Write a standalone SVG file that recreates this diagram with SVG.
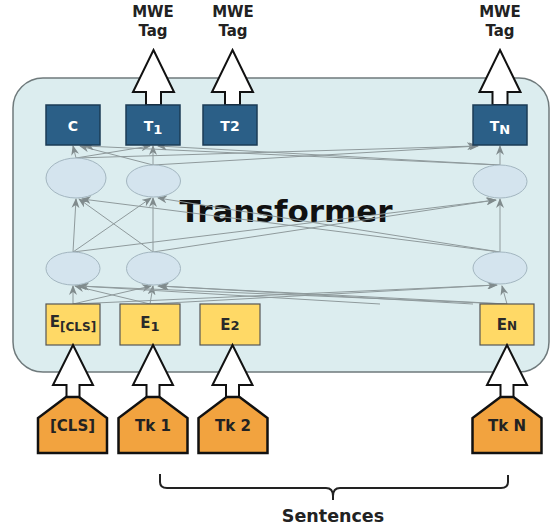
<svg xmlns="http://www.w3.org/2000/svg" width="551" height="527" viewBox="0 0 551 527">
<style>
.lbl{font-family:"DejaVu Sans",Verdana,sans-serif;font-weight:bold;text-anchor:middle}
.top{fill:#2b5f87;stroke:#1b3b55;stroke-width:1.5}
.emb{fill:#ffd966;stroke:#555;stroke-width:1.2}
.ell{fill:#d4e4ee;stroke:#a3b6c0;stroke-width:1}
.tok{fill:#f2a33f;stroke:#111;stroke-width:2.5;stroke-linejoin:miter}
.hol{fill:#fff;stroke:#111;stroke-width:2}
.con line{stroke:#8f9a9c;stroke-width:1;marker-end:url(#ah)}
.wt{fill:#fff;font-size:14px}
.dk{fill:#2a2a2a;font-size:15px}
</style>
<defs>
<marker id="ah" viewBox="0 0 10 8" refX="9" refY="4" markerWidth="10" markerHeight="8" markerUnits="userSpaceOnUse" orient="auto">
<path d="M0,0 L10,4 L0,8 L3,4 Z" fill="#808b8d"/>
</marker>
<path id="upTop" d="M0,0 L20.5,42 L7.5,42 L7.5,55 L-7.5,55 L-7.5,42 L-20.5,42 Z"/>
<path id="upBot" d="M0,0 L20,40 L6.5,40 L6.5,53 L-6.5,53 L-6.5,40 L-20,40 Z"/>
<path id="house" d="M-6.5,0 L6.5,0 L34.5,21 L34.5,56 L-34.5,56 L-34.5,21 Z"/>
</defs>

<rect id="transformer-box" x="13" y="78" width="536" height="294" rx="30" ry="30" fill="#dcedef" stroke="#6f7a7c" stroke-width="1.5"/>
<text class="lbl" x="286" y="222" font-size="31" fill="#111">Transformer</text>

<g id="connectors" class="con">
<line x1="73" y1="304" x2="73" y2="286"/>
<line x1="73" y1="304" x2="151" y2="286"/>
<line x1="73" y1="304" x2="497" y2="285"/>
<line x1="150" y1="304" x2="75" y2="286"/>
<line x1="150" y1="304" x2="153" y2="286"/>
<line x1="150" y1="304" x2="496" y2="285"/>
<line x1="380" y1="304" x2="80" y2="286"/>
<line x1="507" y1="304" x2="78" y2="286"/>
<line x1="507" y1="304" x2="158" y2="286"/>
<line x1="473" y1="304" x2="160" y2="286"/>
<line x1="507" y1="304" x2="502" y2="286"/>
<line x1="73" y1="252" x2="76" y2="199"/>
<line x1="73" y1="252" x2="151" y2="198"/>
<line x1="73" y1="252" x2="496" y2="200"/>
<line x1="153" y1="252" x2="79" y2="199"/>
<line x1="153" y1="252" x2="153" y2="198"/>
<line x1="153" y1="252" x2="495" y2="200"/>
<line x1="500" y1="252" x2="82" y2="199"/>
<line x1="500" y1="252" x2="158" y2="198"/>
<line x1="500" y1="252" x2="500" y2="199"/>
<line x1="76" y1="158" x2="73" y2="146"/>
<line x1="76" y1="158" x2="150" y2="146"/>
<line x1="76" y1="158" x2="476" y2="146"/>
<line x1="153" y1="165" x2="80" y2="146"/>
<line x1="153" y1="165" x2="153" y2="146"/>
<line x1="153" y1="165" x2="478" y2="146"/>
<line x1="500" y1="165" x2="85" y2="146"/>
<line x1="500" y1="165" x2="158" y2="146"/>
<line x1="500" y1="165" x2="500" y2="146"/>
</g>

<g id="out-arrows">
<use href="#upTop" class="hol" transform="translate(153.5,50)"/>
<use href="#upTop" class="hol" transform="translate(232.5,50)"/>
<use href="#upTop" class="hol" transform="translate(500,50)"/>
</g>
<g id="label-mwe1"><text class="lbl" x="153" y="17" font-size="15" fill="#222">MWE</text><text class="lbl" x="153" y="36" font-size="15" fill="#222">Tag</text></g>
<g id="label-mwe2"><text class="lbl" x="233" y="17" font-size="15" fill="#222">MWE</text><text class="lbl" x="233" y="36" font-size="15" fill="#222">Tag</text></g>
<g id="label-mweN"><text class="lbl" x="500" y="17" font-size="15" fill="#222">MWE</text><text class="lbl" x="500" y="36" font-size="15" fill="#222">Tag</text></g>

<g id="node-C"><rect class="top" x="46" y="105" width="54" height="40"/><text class="lbl wt" x="73" y="131">C</text></g>
<g id="node-T1"><rect class="top" x="126" y="105" width="54" height="40"/><text class="lbl wt" x="153" y="131">T<tspan font-size="13" dy="3">1</tspan></text></g>
<g id="node-T2"><rect class="top" x="203" y="105" width="54" height="40"/><text class="lbl wt" x="230" y="131">T2</text></g>
<g id="node-TN"><rect class="top" x="473" y="105" width="54" height="40"/><text class="lbl wt" x="500" y="131">T<tspan font-size="13" dy="3">N</tspan></text></g>

<g id="node-u0"><ellipse class="ell" cx="76" cy="178" rx="30" ry="20"/></g>
<g id="node-u1"><ellipse class="ell" cx="153.5" cy="181" rx="27" ry="16"/></g>
<g id="node-uN"><ellipse class="ell" cx="500" cy="181.5" rx="27" ry="16.5"/></g>
<g id="node-l0"><ellipse class="ell" cx="73" cy="268.5" rx="27" ry="16.5"/></g>
<g id="node-l1"><ellipse class="ell" cx="153.5" cy="268.5" rx="27" ry="16.5"/></g>
<g id="node-lN"><ellipse class="ell" cx="500" cy="268" rx="27" ry="16"/></g>

<g id="node-Ecls"><rect class="emb" x="46" y="304" width="54" height="41"/><text class="lbl dk" x="73" y="327">E<tspan font-size="12" dy="4">[CLS]</tspan></text></g>
<g id="node-E1"><rect class="emb" x="120" y="304" width="60" height="41"/><text class="lbl dk" x="150" y="328">E<tspan font-size="13" dy="3">1</tspan></text></g>
<g id="node-E2"><rect class="emb" x="200" y="304" width="60" height="41"/><text class="lbl dk" x="230" y="330">E<tspan font-size="13">2</tspan></text></g>
<g id="node-EN"><rect class="emb" x="480" y="304" width="54" height="41"/><text class="lbl dk" x="507" y="330">E<tspan font-size="12">N</tspan></text></g>

<g id="in-arrows">
<use href="#upBot" class="hol" transform="translate(73,345)"/>
<use href="#upBot" class="hol" transform="translate(153,345)"/>
<use href="#upBot" class="hol" transform="translate(232.5,345)"/>
<use href="#upBot" class="hol" transform="translate(507,345)"/>
</g>

<g id="tok-cls"><use href="#house" class="tok" transform="translate(72.5,397)"/><text class="lbl" x="72.5" y="431" font-size="15" fill="#222">[CLS]</text></g>
<g id="tok-1"><use href="#house" class="tok" transform="translate(153,397)"/><text class="lbl" x="153" y="431" font-size="15" fill="#222">Tk 1</text></g>
<g id="tok-2"><use href="#house" class="tok" transform="translate(233,397)"/><text class="lbl" x="233" y="431" font-size="15" fill="#222">Tk 2</text></g>
<g id="tok-N"><use href="#house" class="tok" transform="translate(507,397)"/><text class="lbl" x="507" y="431" font-size="15" fill="#222">Tk N</text></g>

<g id="brace">
<path d="M160,474 L160,482 Q160,488 167,488 L326,488 Q333,488 333,496 L333,500 M333,496 Q333,488 340,488 L501,488 Q508,488 508,482 L508,475" fill="none" stroke="#222" stroke-width="2"/>
<text class="lbl" x="333" y="522" font-size="17.5" fill="#222">Sentences</text>
</g>
</svg>
